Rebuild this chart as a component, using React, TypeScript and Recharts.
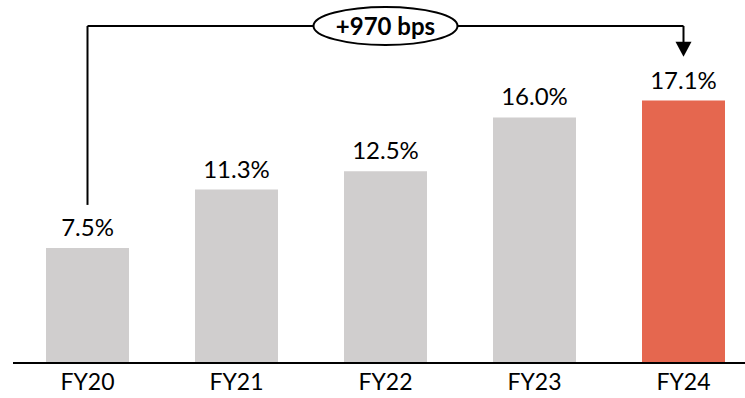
import { Bar, BarChart, Cell, LabelList, ReferenceDot, ReferenceLine, XAxis, YAxis } from "recharts";

const years = ["FY20", "FY21", "FY22", "FY23", "FY24"];
const margins = [7.5, 11.3, 12.5, 16.0, 17.1];
const highlightYear = "FY24";

// bracket annotation, in % units
const bracketLabel = "+970 bps";
const bracketStart = 10.3;
const bracketTop = 21.96;
const arrowBase = 20.9;
const arrowTip = 19.95;

const data = years.map((year, i) => ({ year, value: margins[i] }));

const FONT = "Lato, 'Open Sans', sans-serif";

const Badge = (props: any) => {
  const { cx, cy } = props;
  return (
    <g>
      <ellipse cx={cx} cy={cy} fill="#fff" rx={72} ry={19} stroke="#000" strokeWidth={2} />
      <text
        dominantBaseline="central"
        fill="#000"
        fontFamily={FONT}
        fontSize={24}
        fontWeight={700}
        textAnchor="middle"
        x={cx}
        y={cy}
      >
        {bracketLabel}
      </text>
    </g>
  );
};

const Arrow = (props: any) => {
  const { cx, cy } = props;
  // cy is the tip
  return <polygon fill="#000" points={`${cx - 8},${cy - 15} ${cx + 8},${cy - 15} ${cx},${cy}`} />;
};

export default function App() {
  return (
    <div style={{ width: 745, height: 398, overflow: "hidden" }}>
      <style>{`body{margin:0}`}</style>
      <BarChart
        data={data}
        height={398}
        margin={{ top: 10, right: 0, bottom: 0, left: 13 }}
        width={758}
      >
        <XAxis
          axisLine={{ stroke: "#000", strokeWidth: 2 }}
          dataKey="year"
          height={35}
          tick={{ fill: "#000", fontFamily: FONT, fontSize: 23 }}
          tickLine={false}
          tickMargin={5}
        />
        <YAxis domain={[0, 23]} hide />
        <Bar barSize={83} dataKey="value" isAnimationActive={false}>
          {data.map((d) => (
            <Cell fill={d.year === highlightYear ? "#E5674F" : "#D0CECE"} key={d.year} />
          ))}
          <LabelList
            dataKey="value"
            fill="#000"
            fontFamily={FONT}
            fontSize={24}
            formatter={(v: any) => `${Number(v).toFixed(1)}%`}
            offset={12}
            position="top"
          />
        </Bar>
        <ReferenceLine
          segment={[
            { x: years[0], y: bracketStart },
            { x: years[0], y: bracketTop },
          ]}
          stroke="#000"
          strokeWidth={2}
        />
        <ReferenceLine
          segment={[
            { x: years[0], y: bracketTop },
            { x: years[4], y: bracketTop },
          ]}
          stroke="#000"
          strokeWidth={2}
        />
        <ReferenceLine
          segment={[
            { x: years[4], y: bracketTop },
            { x: years[4], y: arrowBase },
          ]}
          stroke="#000"
          strokeWidth={2}
        />
        <ReferenceDot shape={Arrow} x={years[4]} y={arrowTip} />
        <ReferenceDot shape={Badge} x={years[2]} y={bracketTop} />
      </BarChart>
    </div>
  );
}
